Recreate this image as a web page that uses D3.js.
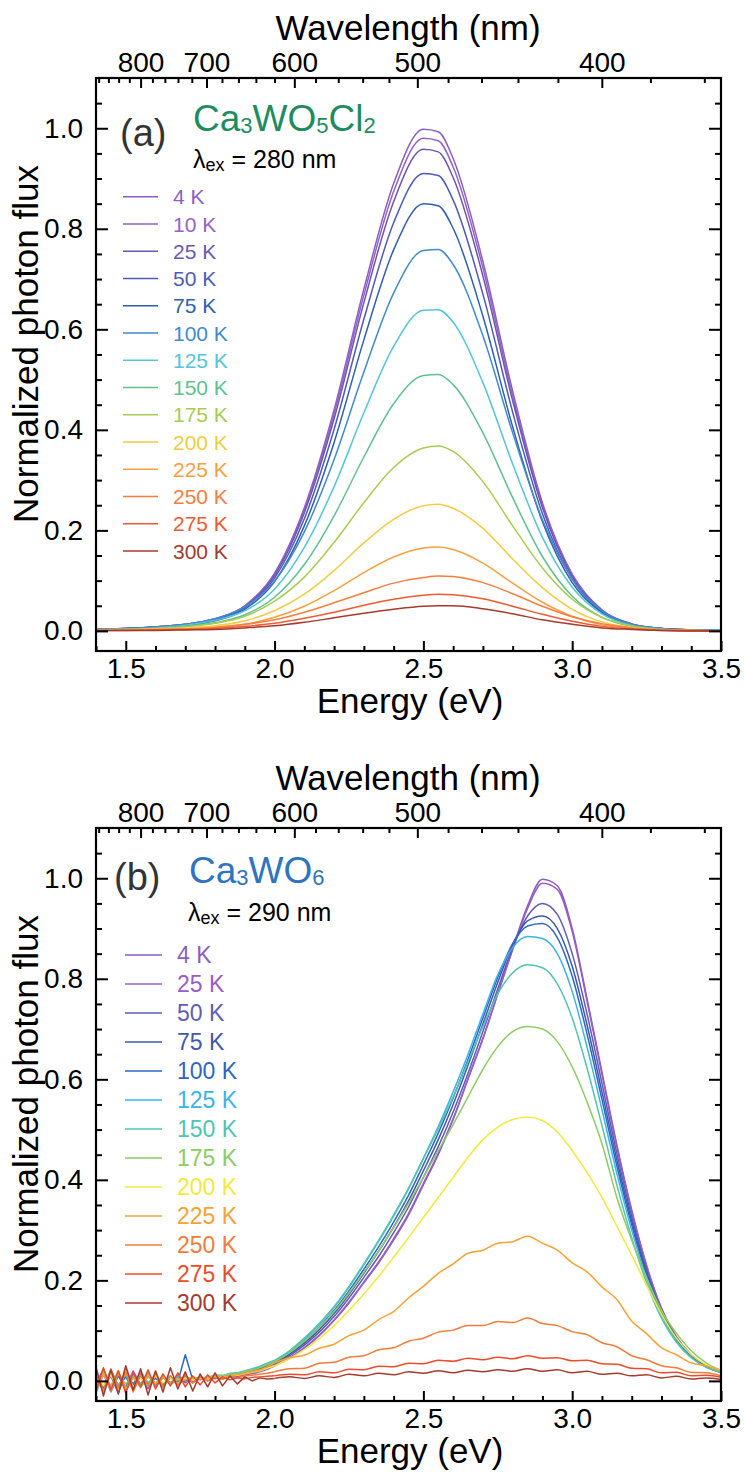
<!DOCTYPE html>
<html>
<head>
<meta charset="utf-8">
<script src="https://cdn.jsdelivr.net/npm/d3@7"></script>
<style>
  html, body { margin: 0; padding: 0; background: #fff; }
  svg { display: block; }
</style>
</head>
<body>
<svg id="chart" width="744" height="1474"></svg>
<script>
// ---------- axis values ----------
const HC = 1239.84;                       // eV·nm, converts energy <-> wavelength
const energyDomain = [1.4, 3.5];
const fluxDomain = [-0.04, 1.10];
const energyMajor = [1.5, 2.0, 2.5, 3.0, 3.5];
const energyMinor = [1.4, 1.6, 1.7, 1.8, 1.9, 2.1, 2.2, 2.3, 2.4, 2.6, 2.7, 2.8, 2.9, 3.1, 3.2, 3.3, 3.4];
const fluxMajor = [0.0, 0.2, 0.4, 0.6, 0.8, 1.0];
const fluxMinor = [0.05, 0.1, 0.15, 0.25, 0.3, 0.35, 0.45, 0.5, 0.55, 0.65, 0.7, 0.75, 0.85, 0.9, 0.95, 1.05];
const wavelengthMajor = [800, 700, 600, 500, 400];
const wavelengthMinor = [880, 860, 840, 820, 780, 760, 740, 720, 680, 660, 640, 620,
                         580, 560, 540, 520, 480, 460, 440, 420, 380, 360];

// ---------- (a) Ca3WO5Cl2, λex = 280 nm ----------
const energyA = [1.4, 1.5, 1.6, 1.7, 1.8, 1.9, 2.0, 2.1, 2.2, 2.3, 2.4, 2.5, 2.55, 2.6,
                 2.7, 2.8, 2.9, 3.0, 3.1, 3.2, 3.3, 3.4, 3.5];
const tempsA = ["4 K", "10 K", "25 K", "50 K", "75 K", "100 K", "125 K", "150 K",
                "175 K", "200 K", "225 K", "250 K", "275 K", "300 K"];
const colorsA = ["#8b5fc4", "#9762c4", "#6d55b5", "#4d5cb8", "#2f5fb0", "#3f8ad0", "#52c5d8",
                 "#5fc190", "#a8cc50", "#f2cc40", "#f8a040", "#f77e3c", "#f05a30", "#a53a2e"];
const a4K   = [.003,.005,.008,.013,.024,.050,.115,.245,.440,.680,.890,.998,.993,.940,.735,.477,.255,.113,.042,.014,.005,.002,.001];
const a10K  = [.003,.005,.008,.013,.024,.049,.113,.241,.432,.668,.874,.980,.975,.923,.722,.468,.250,.111,.041,.014,.005,.002,.001];
const a25K  = [.003,.005,.008,.012,.023,.048,.110,.235,.422,.653,.854,.958,.953,.902,.706,.458,.245,.108,.040,.013,.005,.002,.001];
const a50K  = [.003,.005,.007,.012,.022,.046,.105,.223,.401,.620,.812,.910,.906,.857,.670,.435,.233,.103,.038,.013,.005,.002,.001];
const a75K  = [.003,.004,.007,.011,.020,.043,.098,.209,.375,.579,.758,.850,.846,.801,.626,.406,.217,.096,.036,.012,.004,.002,.001];
const a100K = [.003,.005,.008,.013,.024,.048,.099,.197,.341,.515,.672,.757,.759,.729,.587,.394,.221,.103,.040,.013,.005,.002,.001];
const a125K = [.003,.004,.006,.011,.021,.040,.083,.166,.287,.434,.566,.638,.639,.614,.494,.332,.186,.087,.034,.011,.004,.001,.001];
const a150K = [.002,.003,.005,.009,.016,.032,.067,.132,.229,.346,.452,.508,.510,.490,.394,.265,.148,.069,.027,.009,.003,.001,.001];
const a175K = [.002,.003,.005,.008,.015,.029,.059,.107,.176,.255,.325,.364,.368,.357,.297,.209,.125,.063,.027,.010,.003,.001,.000];
const a200K = [.002,.002,.004,.006,.010,.020,.040,.073,.120,.175,.222,.249,.252,.244,.204,.143,.086,.043,.018,.007,.002,.001,.000];
const a225K = [.001,.002,.002,.004,.007,.013,.027,.049,.080,.116,.147,.165,.167,.162,.135,.095,.057,.029,.012,.005,.002,.001,.000];
const a250K = [.001,.002,.003,.004,.007,.013,.022,.037,.056,.076,.095,.106,.109,.108,.096,.074,.049,.028,.014,.006,.002,.001,.000];
const a275K = [.001,.001,.002,.003,.005,.009,.015,.025,.037,.051,.063,.071,.073,.072,.064,.049,.033,.019,.009,.004,.001,.001,.000];
const a300K = [.001,.001,.001,.002,.003,.006,.010,.017,.026,.035,.043,.049,.050,.050,.044,.034,.022,.013,.006,.003,.001,.000,.000];
const fluxA = [a4K, a10K, a25K, a50K, a75K, a100K, a125K, a150K, a175K, a200K, a225K, a250K, a275K, a300K];

// ---------- (b) Ca3WO6, λex = 290 nm ----------
// finer steps below 2 eV, where the spectra are mostly detector noise
const energyB = [1.400,1.425,1.450,1.475,1.500,1.525,1.550,1.575,1.600,1.625,1.650,1.675,
                 1.700,1.725,1.750,1.775,1.800,1.825,1.850,1.875,1.900,1.925,1.950,1.975,
                 2.00,2.05,2.10,2.15,2.20,2.25,2.30,2.35,2.40,2.45,2.50,2.55,2.60,2.65,2.70,2.75,
                 2.80,2.85,2.90,2.95,3.00,3.05,3.10,3.15,3.20,3.25,3.30,3.35,3.40,3.45,3.50];
const tempsB = ["4 K", "25 K", "50 K", "75 K", "100 K", "125 K", "150 K",
                "175 K", "200 K", "225 K", "250 K", "275 K", "300 K"];
const colorsB = ["#8a5fc0", "#9a5cc4", "#5f5cb8", "#3f58b0", "#2d66c2", "#3ab4ea", "#52c4b0",
                 "#8ecb62", "#f2ea3a", "#f8a234", "#f57c38", "#ef4b2a", "#a53a2e"];
const b4K   = [0.012,-0.020,0.018,-0.015,0.022,-0.010,0.008,-0.016,0.012,-0.006,0.010,-0.008,
               0.006,-0.004,0.008,0.000,0.006,0.004,0.009,0.007,0.012,0.014,0.018,0.023,
               .030,.045,.065,.090,.120,.155,.195,.235,.280,.330,.390,.450,.520,
               .600,.680,.770,.860,.945,.998,.985,.900,.760,.615,.470,.340,.230,.145,.088,.052,.030,.018];
const b25K  = [-0.018,0.015,-0.022,0.010,-0.012,0.020,-0.008,0.012,-0.010,0.008,-0.006,0.010,
               -0.004,0.006,0.002,0.007,0.004,0.008,0.010,0.009,0.013,0.016,0.020,0.025,
               .031,.046,.066,.091,.121,.157,.197,.237,.283,.333,.393,.453,.522,
               .602,.682,.770,.858,.940,.990,.978,.894,.755,.610,.466,.337,.228,.143,.087,.051,.030,.018];
const b50K  = [0.020,-0.012,0.010,-0.024,0.014,-0.006,0.016,-0.010,0.006,-0.012,0.008,-0.002,
               0.009,-0.003,0.006,0.004,0.008,0.007,0.011,0.012,0.015,0.018,0.022,0.028,
               .034,.050,.071,.097,.128,.165,.206,.248,.295,.346,.405,.466,.535,
               .612,.695,.780,.862,.925,.950,.928,.850,.730,.592,.453,.327,.221,.140,.085,.050,.029,.018];
const b75K  = [-0.008,0.024,-0.016,0.012,-0.020,0.008,-0.012,0.014,-0.008,0.010,-0.004,0.006,
               0.000,0.008,0.004,0.006,0.009,0.008,0.012,0.013,0.016,0.019,0.024,0.030,
               .036,.053,.075,.102,.134,.172,.214,.258,.306,.358,.418,.480,.550,
               .628,.710,.793,.868,.915,.925,.900,.825,.708,.575,.440,.318,.215,.136,.083,.049,.029,.017];
const b100K = [0.016,-0.014,0.022,-0.010,0.008,-0.018,0.010,-0.006,0.012,-0.008,0.006,-0.002,
               0.052,0.002,0.006,0.005,0.010,0.009,0.013,0.014,0.018,0.021,0.026,0.032,
               .038,.056,.079,.107,.140,.179,.222,.267,.316,.369,.430,.493,.563,
               .640,.722,.803,.870,.905,.910,.882,.805,.690,.560,.428,.310,.210,.133,.081,.048,.028,.017];
const b125K = [-0.024,0.012,-0.010,0.018,-0.014,0.010,-0.006,0.016,-0.012,0.006,-0.004,0.010,
               0.002,0.007,0.005,0.008,0.011,0.010,0.014,0.015,0.019,0.023,0.028,0.034,
               .040,.059,.083,.112,.146,.186,.231,.278,.328,.382,.443,.506,.575,
               .650,.730,.808,.862,.884,.880,.850,.775,.664,.540,.413,.300,.204,.130,.079,.047,.028,.017];
const b150K = [0.014,-0.022,0.016,-0.008,0.012,-0.016,0.020,-0.004,0.010,-0.010,0.008,0.000,
               0.007,0.004,0.008,0.006,0.011,0.011,0.015,0.016,0.020,0.024,0.029,0.035,
               .041,.060,.085,.114,.148,.188,.233,.280,.330,.383,.442,.502,.565,
               .635,.705,.770,.812,.828,.822,.790,.722,.622,.508,.390,.285,.195,.125,.077,.046,.027,.017];
const b175K = [-0.012,0.018,-0.020,0.014,-0.006,0.012,-0.014,0.008,-0.004,0.010,-0.006,0.006,
               0.003,0.007,0.005,0.007,0.010,0.010,0.013,0.014,0.018,0.021,0.026,0.032,
               .038,.056,.079,.106,.138,.175,.216,.259,.305,.353,.405,.458,.510,
               .565,.620,.665,.695,.705,.700,.675,.625,.555,.472,.365,.280,.205,.140,.095,.060,.036,.021];
const b200K = [0.018,-0.010,0.012,-0.018,0.020,-0.012,0.006,-0.010,0.010,-0.004,0.006,-0.006,
               0.006,0.002,0.005,0.004,0.008,0.007,0.010,0.011,0.014,0.017,0.020,0.025,
               .030,.044,.062,.084,.110,.140,.173,.208,.246,.285,.325,.365,.405,
               .445,.480,.505,.520,.525,.518,.495,.458,.415,.365,.308,.250,.190,.133,.085,.052,.032,.020];
const b225K = [-0.020,0.014,-0.012,0.020,-0.016,0.006,-0.010,0.012,-0.006,0.008,-0.008,0.004,
               0.002,0.006,0.004,0.005,0.008,0.007,0.010,0.012,0.015,0.018,0.022,0.028,
               .036,.046,.051,.065,.073,.090,.101,.122,.138,.165,.188,.214,.233,
               .254,.260,.274,.277,.288,.274,.260,.235,.217,.187,.162,.119,.094,.066,.052,.036,.030,.020];
const b250K = [0.016,-0.020,0.024,-0.014,0.018,-0.022,0.012,-0.010,0.016,-0.012,0.010,-0.008,
               0.012,-0.004,0.008,0.000,0.007,0.003,0.008,0.006,0.010,0.011,0.013,0.015,
               .018,.024,.025,.035,.037,.047,.050,.062,.066,.079,.085,.097,.101,
               .110,.110,.118,.116,.125,.114,.110,.098,.092,.076,.068,.050,.042,.030,.026,.017,.016,.010];
const b275K = [-0.022,0.026,-0.018,0.020,-0.024,0.016,-0.012,0.022,-0.016,0.014,-0.010,0.016,
               -0.012,0.010,-0.008,0.012,-0.004,0.008,0.002,0.006,0.004,0.007,0.008,0.009,
               .010,.013,.012,.018,.016,.023,.022,.029,.028,.035,.034,.041,.039,
               .045,.042,.047,.044,.050,.045,.046,.040,.041,.034,.033,.025,.024,.016,.017,.010,.011,.007];
const b300K = [0.028,-0.030,0.022,-0.026,0.030,-0.018,0.024,-0.028,0.020,-0.022,0.026,-0.016,
               0.018,-0.020,0.014,-0.012,0.016,-0.010,0.010,-0.006,0.008,0.000,0.006,0.004,
               .005,.008,.005,.010,.007,.013,.010,.015,.012,.018,.015,.020,.016,
               .021,.018,.022,.019,.024,.019,.022,.016,.019,.013,.015,.010,.012,.006,.009,.004,.006,.003];
const fluxB = [b4K, b25K, b50K, b75K, b100K, b125K, b150K, b175K, b200K, b225K, b250K, b275K, b300K];

// ---------- layout ----------
const FONT = '"Liberation Sans", Arial, Helvetica, sans-serif';
const X0 = 96, X1 = 721, PLOT_H = 573;
const svg = d3.select("#chart");

function styleAxis(sel, fontSize) {
  sel.attr("font-family", FONT).attr("font-size", fontSize);
  sel.select(".domain").remove();
  sel.selectAll(".tick line").attr("stroke", "#000").attr("stroke-width", 2);
  sel.selectAll(".tick text").attr("fill", "#000");
}

function drawPanel(p) {
  const g = svg.append("g");
  const top = p.top, bottom = p.top + PLOT_H;
  const x = d3.scaleLinear().domain(energyDomain).range([X0, X1]);
  const y = d3.scaleLinear().domain(fluxDomain).range([bottom, top]);

  // spectra: noisy low-energy part as straight segments, the band itself smoothed
  const clipId = "clip-" + p.id;
  g.append("clipPath").attr("id", clipId).append("rect")
    .attr("x", X0).attr("y", top).attr("width", X1 - X0).attr("height", PLOT_H);
  const smooth = d3.line().x(d => x(d[0])).y(d => y(d[1])).curve(d3.curveMonotoneX);
  const jagged = d3.line().x(d => x(d[0])).y(d => y(d[1])).curve(d3.curveLinear);
  const curves = g.append("g").attr("clip-path", `url(#${clipId})`)
    .attr("fill", "none").attr("stroke-width", 1.5).attr("stroke-linejoin", "round");
  p.series.forEach(s => {
    const pts = p.energy.map((e, i) => [e, s.values[i]]);
    const low = pts.filter(d => d[0] <= p.noiseEnd);
    const high = pts.filter(d => d[0] >= p.noiseEnd);
    if (low.length > 1) curves.append("path").datum(low).attr("d", jagged).attr("stroke", s.color);
    curves.append("path").datum(high).attr("d", smooth).attr("stroke", s.color);
  });

  // frame
  g.append("rect").attr("x", X0).attr("y", top).attr("width", X1 - X0).attr("height", PLOT_H)
    .attr("fill", "none").attr("stroke", "#000").attr("stroke-width", 2.2);

  // bottom energy axis
  g.append("g").attr("transform", `translate(0,${bottom})`)
    .call(d3.axisBottom(x).tickValues(energyMajor).tickFormat(d3.format(".1f"))
      .tickSizeInner(-10).tickSizeOuter(0).tickPadding(7))
    .call(s => styleAxis(s, 28));
  g.append("g").attr("transform", `translate(0,${bottom})`)
    .call(d3.axisBottom(x).tickValues(energyMinor).tickFormat("").tickSizeInner(-5).tickSizeOuter(0))
    .call(s => styleAxis(s, 28));

  // top wavelength axis
  g.append("g").attr("transform", `translate(0,${top})`)
    .call(d3.axisTop(x).tickValues(wavelengthMajor.map(w => HC / w))
      .tickFormat(e => Math.round(HC / e)).tickSizeInner(-10).tickSizeOuter(0).tickPadding(6))
    .call(s => styleAxis(s, 28));
  g.append("g").attr("transform", `translate(0,${top})`)
    .call(d3.axisTop(x).tickValues(wavelengthMinor.map(w => HC / w)).tickFormat("")
      .tickSizeInner(-5).tickSizeOuter(0))
    .call(s => styleAxis(s, 28));

  // left and right flux axes
  g.append("g").attr("transform", `translate(${X0},0)`)
    .call(d3.axisLeft(y).tickValues(fluxMajor).tickFormat(d3.format(".1f"))
      .tickSizeInner(-12).tickSizeOuter(0).tickPadding(13))
    .call(s => styleAxis(s, 28));
  g.append("g").attr("transform", `translate(${X0},0)`)
    .call(d3.axisLeft(y).tickValues(fluxMinor).tickFormat("").tickSizeInner(-6).tickSizeOuter(0))
    .call(s => styleAxis(s, 28));
  g.append("g").attr("transform", `translate(${X1},0)`)
    .call(d3.axisRight(y).tickValues(fluxMajor).tickFormat("").tickSizeInner(-12).tickSizeOuter(0))
    .call(s => styleAxis(s, 28));
  g.append("g").attr("transform", `translate(${X1},0)`)
    .call(d3.axisRight(y).tickValues(fluxMinor).tickFormat("").tickSizeInner(-6).tickSizeOuter(0))
    .call(s => styleAxis(s, 28));

  // axis titles
  g.append("text").attr("x", 408).attr("y", top - 38)
    .attr("text-anchor", "middle").attr("font-family", FONT).attr("font-size", 35).attr("fill", "#000")
    .text("Wavelength (nm)");
  g.append("text").attr("x", 410).attr("y", bottom + 62)
    .attr("text-anchor", "middle").attr("font-family", FONT).attr("font-size", 35).attr("fill", "#000")
    .text("Energy (eV)");
  g.append("text")
    .attr("transform", `translate(38,${top + 266}) rotate(-90)`)
    .attr("text-anchor", "middle").attr("font-family", FONT).attr("font-size", 35).attr("fill", "#000")
    .text("Normalized photon flux");

  // panel letter, compound, excitation wavelength
  g.append("text").attr("x", p.letter.x).attr("y", p.letter.y)
    .attr("font-family", FONT).attr("font-size", 38).attr("fill", "#333").text(p.letter.text);

  const f = g.append("text").attr("x", p.formula.x).attr("y", p.formula.y)
    .attr("font-family", FONT).attr("font-size", 37).attr("fill", p.formula.color);
  let lowered = false;
  p.formula.parts.forEach(part => {
    if (part.sub) {
      f.append("tspan").attr("font-size", 22).attr("dy", lowered ? 0 : 2).text(part.t);
      lowered = true;
    } else {
      f.append("tspan").attr("dy", lowered ? -2 : 0).text(part.t);
      lowered = false;
    }
  });

  const ex = g.append("text").attr("x", p.excitation.x).attr("y", p.excitation.y)
    .attr("font-family", FONT).attr("font-size", p.excitation.size).attr("fill", "#000");
  ex.append("tspan").text("\u03bb");
  ex.append("tspan").attr("font-size", Math.round(p.excitation.size * 0.72)).attr("dy", 3).text("ex");
  ex.append("tspan").attr("dy", -3).text(" = " + p.excitation.value + " nm");

  // legend
  const L = p.legend;
  p.series.forEach((s, i) => {
    const ly = L.y0 + i * L.dy;
    g.append("line").attr("x1", L.x1).attr("x2", L.x2).attr("y1", ly).attr("y2", ly)
      .attr("stroke", s.color).attr("stroke-width", 1.6);
    g.append("text").attr("x", L.tx).attr("y", ly + L.font * 0.36)
      .attr("font-family", FONT).attr("font-size", L.font).attr("fill", s.color).text(s.label);
  });
}

const seriesA = tempsA.map((t, i) => ({ label: t, color: colorsA[i], values: fluxA[i] }));
const seriesB = tempsB.map((t, i) => ({ label: t, color: colorsB[i], values: fluxB[i] }));

drawPanel({
  id: "a", top: 78, energy: energyA, series: seriesA, noiseEnd: 1.4,
  letter: { text: "(a)", x: 120, y: 146 },
  formula: { x: 193, y: 131, color: "#1f8c5f",
             parts: [{ t: "Ca" }, { t: "3", sub: true }, { t: "WO" }, { t: "5", sub: true }, { t: "Cl" }, { t: "2", sub: true }] },
  excitation: { x: 193, y: 168, size: 25, value: 280 },
  legend: { x1: 123, x2: 158, tx: 173, y0: 196.7, dy: 27.25, font: 21 }
});

drawPanel({
  id: "b", top: 828, energy: energyB, series: seriesB, noiseEnd: 2.0,
  letter: { text: "(b)", x: 114, y: 890 },
  formula: { x: 189, y: 883, color: "#2f74c0",
             parts: [{ t: "Ca" }, { t: "3", sub: true }, { t: "WO" }, { t: "6", sub: true }] },
  excitation: { x: 188, y: 921, size: 25, value: 290 },
  legend: { x1: 125, x2: 162, tx: 177, y0: 955, dy: 29, font: 23 }
});
</script>
</body>
</html>
